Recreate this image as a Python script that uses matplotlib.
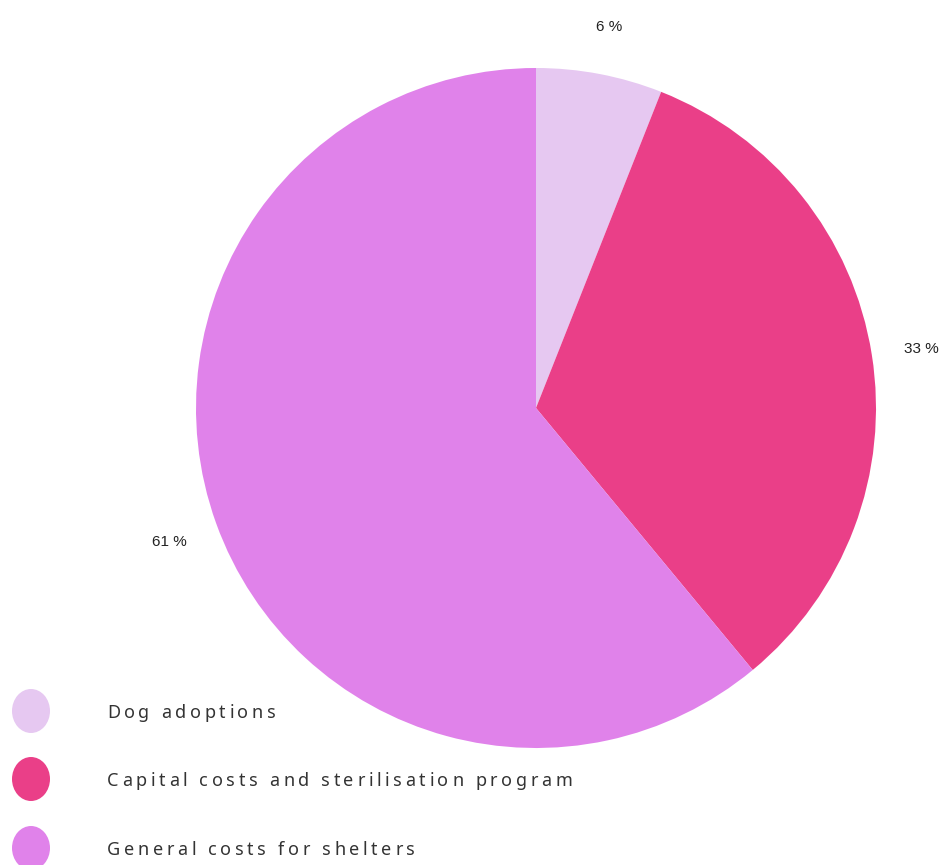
import matplotlib
matplotlib.use("Agg")
import matplotlib.pyplot as plt
from matplotlib.patches import Ellipse

categories = ["Dog adoptions", "Capital costs and sterilisation program", "General costs for shelters"]
values = [6, 33, 61]
colors = ["#E6C8F1", "#EA3F88", "#E082EA"]

W, H = 947, 865
fig = plt.figure(figsize=(W / 100, H / 100), dpi=100)
ax = fig.add_axes([0, 0, 1, 1])

cx, cy, R = 536, H - 408, 340
wedges, _, autotexts = ax.pie(
    values, colors=colors, startangle=90, counterclock=False,
    center=(cx, cy), radius=R, autopct=lambda p: f"{p:.0f} %",
    pctdistance=1.147, frame=True,
    textprops=dict(fontsize=11, color="#222222", family="Liberation Sans"),
)
for t in autotexts:
    x, y = t.get_position()
    t.set_position((x, y - 2))
ax.set_xlim(0, W)
ax.set_ylim(0, H)
ax.set_aspect("equal")
ax.axis("off")

fig.canvas.draw()
renderer = fig.canvas.get_renderer()
spacing = 3.6
fs = 13
legend_y = [713, 781, 850]
t2 = ax.text(0, 0, "a a", fontsize=fs, family="Noto Sans")
t3 = ax.text(0, 0, "aa", fontsize=fs, family="Noto Sans")
space_w = t2.get_window_extent(renderer).width - t3.get_window_extent(renderer).width
t2.remove(); t3.remove()
for cat, col, y in zip(categories, colors, legend_y):
    ax.add_patch(Ellipse((31, H - y + 2), 38, 44, color=col, lw=0))
    x = 107
    for ch in cat:
        t = ax.text(x, H - y, ch, fontsize=fs, color="#333333", family="Noto Sans",
                    va="center", ha="left")
        w = space_w if ch == " " else t.get_window_extent(renderer).width
        x += w + spacing

fig.savefig("out.png", dpi=100)
